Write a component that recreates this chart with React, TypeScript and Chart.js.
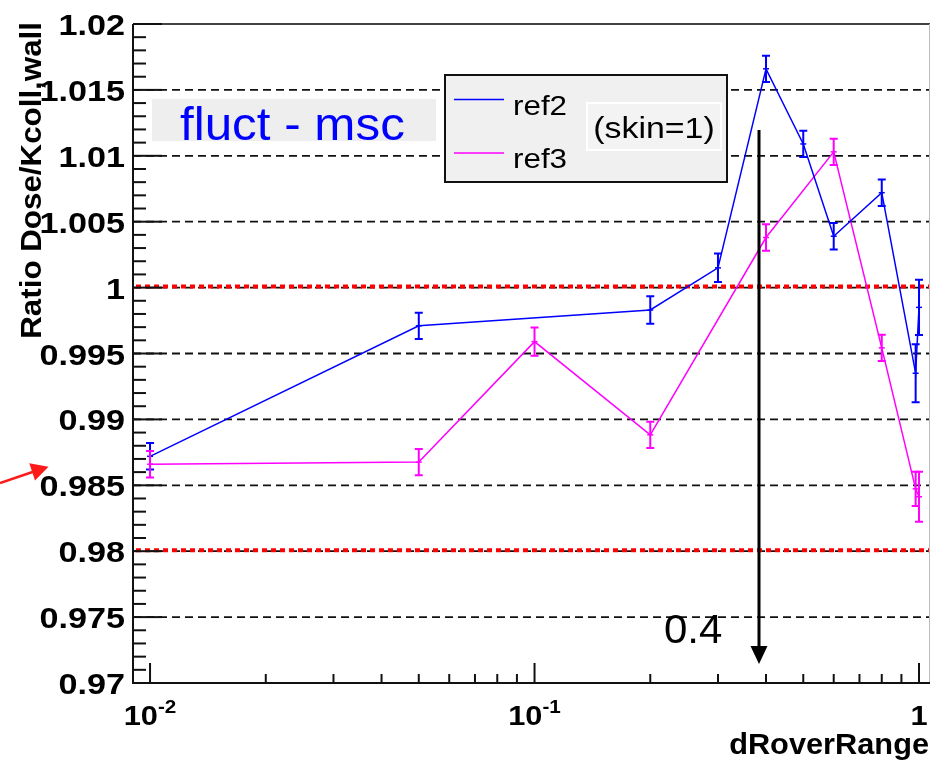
import React, { useEffect, useRef } from 'react';
import { Chart, registerables } from 'chart.js';

Chart.register(...registerables);

// ---- data ----
const ref2X = [0.01, 0.05, 0.2, 0.3, 0.4, 0.5, 0.6, 0.8, 0.98, 1.0];
const ref2Y = [0.9872, 0.9971, 0.9983, 1.0015, 1.0166, 1.0109, 1.0039, 1.0072, 0.9935, 0.9985];
const ref2Err = [0.001, 0.001, 0.00105, 0.00108, 0.001, 0.001, 0.001, 0.001, 0.0022, 0.0021];

const ref3X = [0.01, 0.05, 0.1, 0.2, 0.4, 0.6, 0.8, 0.98, 1.0];
const ref3Y = [0.9866, 0.98676, 0.9959, 0.98883, 1.0038, 1.0103, 0.99543, 0.98473, 0.98413];
const ref3Err = [0.001, 0.001, 0.00107, 0.001, 0.001, 0.001, 0.001, 0.0013, 0.0019];

const yTickValues = [0.97, 0.975, 0.98, 0.985, 0.99, 0.995, 1.0, 1.005, 1.01, 1.015, 1.02];
const yTickLabels = ['0.97', '0.975', '0.98', '0.985', '0.99', '0.995', '1', '1.005', '1.01', '1.015', '1.02'];
const xMajorTicks = [0.01, 0.1, 1];
const xTickBase = ['10', '10', '1'];
const xTickExp = ['-2', '-1', ''];
const refLines = [1.0, 0.98];

const Y_MIN = 0.97;
const Y_MAX = 1.02;
const X_MIN = 0.00903;
const X_MAX = 1.068;

const FONT = '"Liberation Sans", Arial, Helvetica, sans-serif';

function drawText(
  ctx: CanvasRenderingContext2D,
  text: string,
  x: number,
  y: number,
  font: string,
  color: string,
  align: CanvasTextAlign,
  sx = 1
) {
  ctx.save();
  ctx.font = font;
  ctx.fillStyle = color;
  ctx.textAlign = align;
  ctx.textBaseline = 'alphabetic';
  ctx.translate(x, y);
  ctx.scale(sx, 1);
  ctx.fillText(text, 0, 0);
  ctx.restore();
}

const rootPlugin = {
  id: 'rootStyle',
  beforeDatasetsDraw(chart: any) {
    const { ctx, chartArea: a, scales } = chart;
    const ys = scales.y;
    ctx.save();
    ctx.strokeStyle = '#111';
    ctx.lineWidth = 1.8;
    ctx.setLineDash([8, 5]);
    yTickValues.forEach((v) => {
      if (v <= Y_MIN + 1e-9 || v >= Y_MAX - 1e-9) return;
      const py = ys.getPixelForValue(v);
      ctx.beginPath();
      ctx.moveTo(a.left, py);
      ctx.lineTo(a.right, py);
      ctx.stroke();
    });
    ctx.strokeStyle = '#ff0000';
    ctx.lineWidth = 4;
    ctx.setLineDash([5, 4]);
    refLines.forEach((v) => {
      const py = ys.getPixelForValue(v) - 1;
      ctx.beginPath();
      ctx.moveTo(a.left + 3, py);
      ctx.lineTo(a.right, py);
      ctx.stroke();
    });
    ctx.restore();
  },
  afterDatasetsDraw(chart: any) {
    const { ctx, scales } = chart;
    const xs = scales.x;
    const ys = scales.y;
    const sets = [
      { X: ref2X, Y: ref2Y, E: ref2Err, c: '#0000ff' },
      { X: ref3X, Y: ref3Y, E: ref3Err, c: '#ff00ff' },
    ];
    ctx.save();
    sets.forEach((s) => {
      ctx.strokeStyle = s.c;
      s.X.forEach((xv, i) => {
        const px = xs.getPixelForValue(xv);
        const pc = ys.getPixelForValue(s.Y[i]);
        const pt = ys.getPixelForValue(s.Y[i] + s.E[i]);
        const pb = ys.getPixelForValue(s.Y[i] - s.E[i]);
        ctx.lineWidth = 2;
        ctx.beginPath();
        ctx.moveTo(px, pt);
        ctx.lineTo(px, pb);
        ctx.moveTo(px - 4, pt);
        ctx.lineTo(px + 4, pt);
        ctx.moveTo(px - 4, pb);
        ctx.lineTo(px + 4, pb);
        ctx.stroke();
        ctx.lineWidth = 1.5;
        ctx.beginPath();
        ctx.moveTo(px - 3, pc);
        ctx.lineTo(px + 3, pc);
        ctx.stroke();
      });
    });
    ctx.restore();
  },
  afterDraw(chart: any) {
    const { ctx, chartArea: a, scales } = chart;
    const xs = scales.x;
    const ys = scales.y;
    ctx.save();
    ctx.setLineDash([]);

    // frame
    ctx.strokeStyle = '#444';
    ctx.lineWidth = 2;
    ctx.beginPath();
    ctx.moveTo(a.left, a.top);
    ctx.lineTo(a.right, a.top);
    ctx.stroke();
    ctx.strokeStyle = '#bbb';
    ctx.lineWidth = 1;
    ctx.beginPath();
    ctx.moveTo(a.right - 0.5, a.top);
    ctx.lineTo(a.right - 0.5, a.bottom);
    ctx.stroke();
    ctx.strokeStyle = '#111';
    ctx.lineWidth = 2;
    ctx.beginPath();
    ctx.moveTo(a.left, a.top);
    ctx.lineTo(a.left, a.bottom);
    ctx.lineTo(a.right, a.bottom);
    ctx.stroke();

    // y ticks
    ctx.lineWidth = 2;
    for (let i = 0; i <= 50; i++) {
      const v = Y_MIN + i * 0.001;
      const py = ys.getPixelForValue(v);
      const len = i % 5 === 0 ? 29 : 13;
      ctx.beginPath();
      ctx.moveTo(a.left, py);
      ctx.lineTo(a.left + len, py);
      ctx.stroke();
    }
    // x ticks
    xMajorTicks.forEach((d) => {
      const px = xs.getPixelForValue(d);
      ctx.beginPath();
      ctx.moveTo(px, a.bottom);
      ctx.lineTo(px, a.bottom - 20);
      ctx.stroke();
      if (d < 1) {
        for (let k = 2; k <= 9; k++) {
          const qx = xs.getPixelForValue(k * d);
          ctx.beginPath();
          ctx.moveTo(qx, a.bottom);
          ctx.lineTo(qx, a.bottom - 9);
          ctx.stroke();
        }
      }
    });

    // y labels
    yTickValues.forEach((v, i) => {
      const py = ys.getPixelForValue(v);
      drawText(ctx, yTickLabels[i], a.left - 8, py + 11, `bold 30px ${FONT}`, '#000', 'right', 1.14);
    });
    // x labels
    xMajorTicks.forEach((d, i) => {
      const px = xs.getPixelForValue(d);
      ctx.font = `bold 28px ${FONT}`;
      const w1 = ctx.measureText(xTickBase[i]).width * 1.1;
      ctx.font = `bold 18px ${FONT}`;
      const w2 = xTickExp[i] ? ctx.measureText(xTickExp[i]).width * 1.15 : 0;
      const start = px - (w1 + w2) / 2;
      drawText(ctx, xTickBase[i], start, 725, `bold 28px ${FONT}`, '#000', 'left', 1.1);
      if (xTickExp[i]) drawText(ctx, xTickExp[i], start + w1, 713, `bold 18px ${FONT}`, '#000', 'left', 1.15);
    });

    // axis titles
    drawText(ctx, 'dRoverRange', 929, 754, `bold 29px ${FONT}`, '#000', 'right', 1.06);
    ctx.save();
    ctx.translate(41, 22);
    ctx.rotate(-Math.PI / 2);
    drawText(ctx, 'Ratio Dose/Kcoll,wall', 0, 0, `bold 29px ${FONT}`, '#000', 'right', 1.08);
    ctx.restore();

    // fluct - msc box
    ctx.fillStyle = '#eeeeee';
    ctx.fillRect(152, 99, 284, 42);
    drawText(ctx, 'fluct - msc', 180, 140, `47px ${FONT}`, '#0000ff', 'left', 1.05);

    // legend
    ctx.fillStyle = '#f0f0f0';
    ctx.fillRect(445, 75, 282, 107);
    ctx.strokeStyle = '#111';
    ctx.lineWidth = 2;
    ctx.strokeRect(445, 75, 282, 107);
    ctx.lineWidth = 1.5;
    ctx.strokeStyle = '#0000ff';
    ctx.beginPath();
    ctx.moveTo(454, 99.5);
    ctx.lineTo(504, 99.5);
    ctx.stroke();
    ctx.strokeStyle = '#ff00ff';
    ctx.beginPath();
    ctx.moveTo(454, 153);
    ctx.lineTo(504, 153);
    ctx.stroke();
    drawText(ctx, 'ref2', 513, 115, `28px ${FONT}`, '#000', 'left', 1.12);
    drawText(ctx, 'ref3', 513, 168, `28px ${FONT}`, '#000', 'left', 1.12);
    // skin box
    ctx.fillStyle = '#f3f3f3';
    ctx.fillRect(587, 103, 134, 47);
    ctx.strokeStyle = '#ffffff';
    ctx.lineWidth = 2;
    ctx.strokeRect(587, 103, 134, 47);
    drawText(ctx, '(skin=1)', 654, 138, `30px ${FONT}`, '#000', 'center', 1.13);

    // black arrow
    ctx.strokeStyle = '#000';
    ctx.fillStyle = '#000';
    ctx.lineWidth = 3;
    ctx.beginPath();
    ctx.moveTo(759, 130);
    ctx.lineTo(759, 650);
    ctx.stroke();
    ctx.beginPath();
    ctx.moveTo(759, 664);
    ctx.lineTo(750.5, 646);
    ctx.lineTo(767.5, 646);
    ctx.closePath();
    ctx.fill();
    drawText(ctx, '0.4', 664, 643, `40px ${FONT}`, '#000', 'left', 1.05);

    // red arrow
    ctx.strokeStyle = '#ff1a1a';
    ctx.fillStyle = '#ff1a1a';
    ctx.lineWidth = 2.5;
    ctx.beginPath();
    ctx.moveTo(0, 483);
    ctx.lineTo(34, 471.5);
    ctx.stroke();
    ctx.beginPath();
    ctx.moveTo(48.5, 466.7);
    ctx.lineTo(29.3, 463.3);
    ctx.lineTo(35, 480.5);
    ctx.closePath();
    ctx.fill();

    ctx.restore();
  },
};

export default function App() {
  const canvasRef = useRef<HTMLCanvasElement>(null);
  useEffect(() => {
    document.body.style.margin = '0';
    const canvas = canvasRef.current;
    if (!canvas) return;
    const chart = new Chart(canvas, {
      type: 'scatter',
      data: {
        datasets: [
          {
            label: 'ref2',
            data: ref2X.map((x, i) => ({ x, y: ref2Y[i] })),
            showLine: true,
            borderColor: '#0000ff',
            backgroundColor: '#0000ff',
            borderWidth: 1.5,
            pointRadius: 0,
            tension: 0,
          },
          {
            label: 'ref3',
            data: ref3X.map((x, i) => ({ x, y: ref3Y[i] })),
            showLine: true,
            borderColor: '#ff00ff',
            backgroundColor: '#ff00ff',
            borderWidth: 1.5,
            pointRadius: 0,
            tension: 0,
          },
        ],
      },
      options: {
        responsive: false,
        animation: false,
        devicePixelRatio: 1,
        events: [],
        layout: { padding: { left: 133, top: 24, right: 2, bottom: 77 } },
        scales: {
          x: { type: 'logarithmic', min: X_MIN, max: X_MAX, display: false },
          y: { type: 'linear', min: Y_MIN, max: Y_MAX, display: false },
        },
        plugins: { legend: { display: false }, tooltip: { enabled: false } },
      },
      plugins: [rootPlugin],
    } as any);
    return () => chart.destroy();
  }, []);
  return (
    <div style={{ width: 932, height: 760, background: '#fff' }}>
      <canvas ref={canvasRef} width={932} height={760} style={{ display: 'block' }} />
    </div>
  );
}
